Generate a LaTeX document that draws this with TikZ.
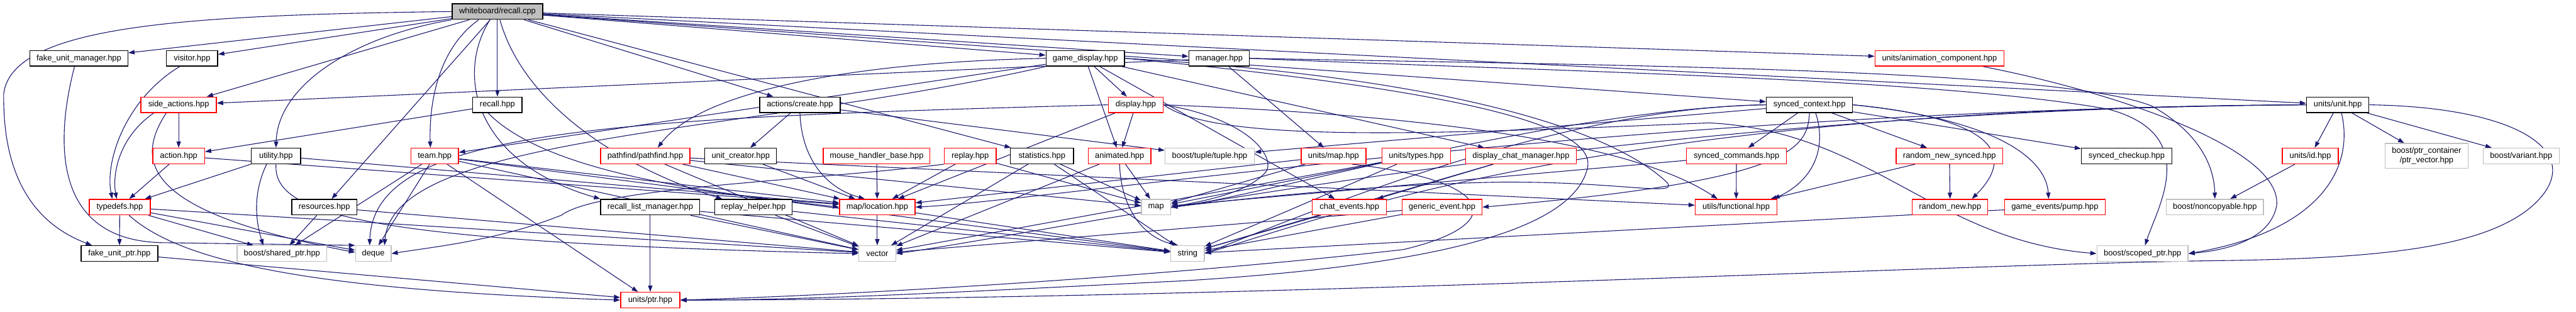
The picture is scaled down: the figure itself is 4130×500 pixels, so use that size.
\documentclass[tikz,border=0pt]{standalone}
\usepackage{fontspec}
\setmainfont{Liberation Sans}
\usetikzlibrary{arrows.meta}
\definecolor{edgeblue}{HTML}{191970}
\definecolor{nodered}{HTML}{FF0000}
\definecolor{nodegray}{HTML}{BFBFBF}
\pgfdeclarelayer{back}
\pgfdeclarelayer{edges}
\pgfsetlayers{back,edges,main}
\begin{document}
\begin{tikzpicture}[x=1pt,y=-1pt,
  base/.style={rectangle, minimum height=25pt, inner xsep=2pt, inner ysep=0pt, line width=1.4pt, fill=white, font=\fontsize{13}{15}\selectfont},
  bk/.style={base, draw=black},
  rd/.style={base, draw=nodered},
  gy/.style={base, draw=nodegray},
  e/.style={draw=edgeblue, line width=1.1pt, -{Triangle[length=10pt,width=7pt]}}]
\useasboundingbox (0,0) rectangle (4130,500);
\begin{pgfonlayer}{back}
\fill[white] (0,0) rectangle (4130,500);
\end{pgfonlayer}

% ---------- nodes ----------
\node[bk, fill=nodegray, minimum width=145] (cpp) at (797.5,18.5) {whiteboard/recall.cpp};
% row 2
\node[bk, minimum width=157] (fum) at (126.5,93.5) {fake\_unit\_manager.hpp};
\node[bk, minimum width=82] (vis) at (308,93.5) {visitor.hpp};
\node[bk, minimum width=126] (gd) at (1740,93.5) {game\_display.hpp};
\node[bk, minimum width=97] (mgr) at (1954.5,93.5) {manager.hpp};
\node[rd, minimum width=207] (uac) at (3109.5,93.5) {units/animation\_component.hpp};
% row 3
\node[rd, minimum width=121] (sa) at (286.5,168) {side\_actions.hpp};
\node[bk, minimum width=79] (rh) at (797.5,168) {recall.hpp};
\node[bk, minimum width=129] (ac) at (1282.5,168) {actions/create.hpp};
\node[rd, minimum width=88] (disp) at (1821,168) {display.hpp};
\node[bk, minimum width=138] (sc) at (2901,168) {synced\_context.hpp};
\node[bk, minimum width=100] (uu) at (3748,168) {units/unit.hpp};
% row 4
\node[rd, minimum width=83] (act) at (286.5,250) {action.hpp};
\node[bk, minimum width=79] (util) at (442.5,250) {utility.hpp};
\node[rd, minimum width=76] (team) at (697,250) {team.hpp};
\node[rd, minimum width=143] (pf) at (1034.5,250) {pathfind/pathfind.hpp};
\node[bk, minimum width=115] (uc) at (1187.5,250) {unit\_creator.hpp};
\node[rd, minimum width=171] (mhb) at (1405.5,250) {mouse\_handler\_base.hpp};
\node[rd, minimum width=83] (rep) at (1555.5,250) {replay.hpp};
\node[bk, minimum width=101] (stat) at (1670.5,250) {statistics.hpp};
\node[rd, minimum width=100] (anim) at (1795,250) {animated.hpp};
\node[gy, minimum width=143] (tuple) at (1939.5,250) {boost/tuple/tuple.hpp};
\node[rd, minimum width=104] (umap) at (2138,250) {units/map.hpp};
\node[rd, minimum width=110] (utypes) at (2270.5,250) {units/types.hpp};
\node[rd, minimum width=177] (dcm) at (2438.5,250) {display\_chat\_manager.hpp};
\node[rd, minimum width=160] (scmd) at (2784,250) {synced\_commands.hpp};
\node[rd, minimum width=171] (rns) at (3125.5,250) {random\_new\_synced.hpp};
\node[bk, minimum width=145] (sck) at (3409.5,250) {synced\_checkup.hpp};
\node[rd, minimum width=90] (uid) at (3704,250) {units/id.hpp};
\node[gy, minimum width=133, minimum height=40pt, align=center] (ptrv) at (3890.5,250) {boost/ptr\_container\\/ptr\_vector.hpp};
\node[gy, minimum width=122] (var) at (4042,250) {boost/variant.hpp};
% row 5
\node[rd, minimum width=98] (td) at (192,332) {typedefs.hpp};
\node[bk, minimum width=104] (res) at (520,332) {resources.hpp};
\node[bk, minimum width=159] (rlm) at (1042.5,332) {recall\_list\_manager.hpp};
\node[bk, minimum width=124] (rph) at (1208,332) {replay\_helper.hpp};
\node[rd, minimum width=121] (loc) at (1406.5,332) {map/location.hpp};
\node[gy, minimum width=47] (map) at (1853.5,332) {map};
\node[rd, minimum width=119] (chat) at (2163.5,332) {chat\_events.hpp};
\node[rd, minimum width=128] (gen) at (2312,332) {generic\_event.hpp};
\node[rd, minimum width=131] (fun) at (2783.5,332) {utils/functional.hpp};
\node[rd, minimum width=121] (rn) at (3126.5,332) {random\_new.hpp};
\node[rd, minimum width=161] (pump) at (3294.5,332) {game\_events/pump.hpp};
\node[gy, minimum width=156] (nc) at (3551,332) {boost/noncopyable.hpp};
% row 6
\node[bk, minimum width=123] (fup) at (191.5,406.5) {fake\_unit\_ptr.hpp};
\node[gy, minimum width=144] (sp) at (452,406.5) {boost/shared\_ptr.hpp};
\node[gy, minimum width=57] (deq) at (598.5,406.5) {deque};
\node[gy, minimum width=59] (vec) at (1406.5,406.5) {vector};
\node[gy, minimum width=54] (str) at (1904,406.5) {string};
\node[gy, minimum width=146] (scp) at (3435,406.5) {boost/scoped\_ptr.hpp};
% row 7
\node[rd, minimum width=95] (uptr) at (1042.5,481) {units/ptr.hpp};

% ---------- edges ----------
\begin{pgfonlayer}{edges}
% from root
\draw[e] (cpp.west) .. controls (300,24) and (20,40) .. (6,150) .. controls (4,290) and (60,360) .. ([xshift=-44pt]fup.north);
\draw[e] (cpp) -- (fum);
\draw[e] (cpp) -- (vis);
\draw[e] (cpp) -- (sa);
\draw[e] (cpp.south west) .. controls (560,60) and (445,140) .. (util.north);
\draw[e] (cpp) -- (res);
\draw[e] ([xshift=-30pt]cpp.south) .. controls (700,80) and (688,170) .. ([xshift=-7pt]team.north);
\draw[e] (cpp) -- (rh);
\draw[e] ([xshift=-12pt]cpp.south) .. controls (730,120) and (760,260) .. (rlm.north west);
\draw[e] ([xshift=4pt]cpp.south) .. controls (840,170) and (1000,270) .. ([xshift=-50pt]rph.north);
\draw[e] (cpp) -- (ac);
\draw[e] (cpp) -- (stat);
\draw[e] (cpp) -- (gd);
\draw[e] (cpp) -- (mgr);
\draw[e] (cpp) -- (uac);
\draw[e] (cpp) -- (sc);
\draw[e] (cpp) -- (uu);
% row 2 sources
\draw[e] ([xshift=-7pt]fum.south) .. controls (95,200) and (70,385) .. (260,389) -- (deq.north west);
\draw[e] ([xshift=-20pt]vis.south) .. controls (200,160) and (168,260) .. ([xshift=-12pt]td.north);
\draw[e] (gd.west) .. controls (1350,100) and (1120,150) .. ([xshift=20pt]pf.north);
\draw[e] (gd) -- (team);
\draw[e] (gd) -- (disp);
\draw[e] (gd) -- (anim);
\draw[e] (gd) -- (dcm);
\draw[e] (gd) -- (chat);
\draw[e] (gd.south west) .. controls (1200,215) and (630,215) .. ([xshift=18pt]deq.north);
\draw[e] (gd.east) .. controls (2400,150) and (2560,210) .. (2545,270) .. controls (2520,370) and (2300,425) .. (1900,450) .. controls (1500,470) and (1300,481) .. (uptr.east);
\draw[e] (gd.east) .. controls (2250,120) and (2560,190) .. (2670,290) .. controls (2700,318) and (2600,290) .. (2400,292) .. controls (2200,296) and (2000,318) .. (map.east);
\draw[e] (mgr) -- (sa);
\draw[e] (mgr) -- (umap);
\draw[e] (mgr.east) .. controls (2500,115) and (3100,125) .. (3380,175) .. controls (3530,215) and (3460,330) .. ([xshift=4pt]scp.north);
\draw[e] (mgr.east) .. controls (2600,105) and (3300,110) .. (3450,170) .. controls (3530,215) and (3550,270) .. (nc.north);
\draw[e] ([xshift=70pt]uac.south) .. controls (3400,150) and (3660,240) .. (3650,330) .. controls (3640,380) and (3580,400) .. (scp.east);
% row 3 sources
\draw[e] ([xshift=-40pt]sa.south) .. controls (190,220) and (180,280) .. ([xshift=-5pt]td.north);
\draw[e] (sa) -- (act);
\draw[e] ([xshift=-20pt]sa.south) .. controls (215,260) and (230,340) .. ([yshift=2pt]deq.west);
\draw[e] (rh) -- (act);
\draw[e] ([xshift=-15pt]rh.south) .. controls (880,280) and (1150,310) .. (loc.west);
\draw[e] (ac) -- (uc);
\draw[e] (ac.south) .. controls (1285,250) and (1320,300) .. ([xshift=-20pt]loc.north);
\draw[e] (ac) -- (tuple);
\draw[e] (disp) -- (anim);
\draw[e] (disp.east) .. controls (2000,190) and (2045,250) .. (2030,275) .. controls (2000,310) and (1930,322) .. (map.east);
\draw[e] (disp.west) .. controls (950,190) and (600,210) .. ([xshift=-6pt]deq.north);
\draw[e] (disp) -- (loc);
\draw[e] (disp.east) .. controls (1950,230) and (2300,215) .. (2740,197) .. controls (3000,210) and (3100,385) .. (scp.west);
\draw[e] (disp.east) .. controls (2300,185) and (2620,230) .. ([xshift=-30pt]fun.north);
\draw[e] (sc) -- (scmd);
\draw[e] (sc) -- (rns);
\draw[e] (sc) -- (sck);
\draw[e] (sc) -- (tuple);
\draw[e] ([xshift=10pt]sc.south) .. controls (2930,240) and (2905,290) .. ([xshift=60pt]fun.north);
\draw[e] (sc.south) .. controls (2898,240) and (2870,290) .. (gen.east);
\draw[e] (sc.east) .. controls (3150,185) and (3250,230) .. ([xshift=35pt]rn.north);
\draw[e] (sc.east) .. controls (3190,190) and (3280,250) .. ([xshift=-10pt]pump.north);
\draw[e] (sc.west) .. controls (2500,172) and (2100,340) .. (str.east);
\draw[e] (sc.west) .. controls (2500,174) and (2000,320) .. (map.east);
\draw[e] (uu) -- (uid);
\draw[e] (uu) -- (ptrv);
\draw[e] (uu) -- (var);
\draw[e] ([xshift=6pt]uu.south) .. controls (3775,270) and (3720,370) .. (scp.east);
\draw[e] (uu.east) .. controls (4050,172) and (4150,250) .. (4060,330) .. controls (3980,400) and (3800,415) .. (3540,418) .. controls (3100,425) and (2000,480) .. (uptr.east);
\draw[e] (uu.west) .. controls (2600,172) and (2150,340) .. (str.east);
\draw[e] (uu.west) .. controls (2600,174) and (1700,370) .. (vec.east);
\draw[e] (uu.west) .. controls (2600,176) and (1700,320) .. (loc.east);
% row 4 sources
\draw[e] (act) -- (td);
\draw[e] (act) -- (loc);
\draw[e] (util) -- (td);
\draw[e] ([xshift=-15pt]util.south) .. controls (400,320) and (415,370) .. ([xshift=-30pt]sp.north);
\draw[e] (util.south) .. controls (438,340) and (560,388) .. (vec.west);
\draw[e] (util) -- (loc);
\draw[e] (team) -- (sp);
\draw[e] (team) -- (deq);
\draw[e] (team) -- (uptr);
\draw[e] (team) -- (loc);
\draw[e] (team) -- (vec);
\draw[e] (team) -- (str);
\draw[e] (pf) -- (loc);
\draw[e] (pf) -- (map);
\draw[e] (pf) -- (vec);
\draw[e] (pf) -- (fun);
\draw[e] (uc) -- (loc);
\draw[e] (mhb) -- (loc);
\draw[e] (rep) -- (loc);
\draw[e] (rep) -- (map);
\draw[e] (rep.south west) .. controls (1300,290) and (960,300) .. (900,345) .. controls (800,385) and (700,395) .. (deq.east);
\draw[e] (stat) -- (vec);
\draw[e] (stat) -- (map);
\draw[e] (stat) -- (str);
\draw[e] (anim) -- (vec);
\draw[e] (anim) -- (map);
\draw[e] (anim.south) .. controls (1797,330) and (1830,380) .. ([xshift=-15pt]str.north);
\draw[e] ([xshift=30pt]umap.south) .. controls (2400,290) and (2420,360) .. (2250,400) .. controls (1900,440) and (1400,472) .. (uptr.east);
\draw[e] (umap) -- (map);
\draw[e] (umap) -- (loc);
\draw[e] (utypes) -- (vec);
\draw[e] (utypes) -- (str);
\draw[e] (utypes) -- (map);
\draw[e] (dcm) -- (chat);
\draw[e] (dcm) -- (str);
\draw[e] (scmd) -- (fun);
\draw[e] (scmd) -- (map);
\draw[e] (rns) -- (fun);
\draw[e] (rns) -- (rn);
\draw[e] (uid) -- (nc);
% row 5 sources
\draw[e] (td) -- (fup);
\draw[e] (td) -- (sp);
\draw[e] (td) -- (deq);
\draw[e] ([xshift=15pt]td.south) .. controls (290,420) and (500,465) .. (uptr.west);
\draw[e] (td) -- (vec);
\draw[e] (res) -- (sp);
\draw[e] (res) -- (vec);
\draw[e] (rlm) -- (uptr);
\draw[e] (rlm) -- (vec);
\draw[e] (rlm) -- (str);
\draw[e] (rph) -- (vec);
\draw[e] (rph) -- (str);
\draw[e] (loc) -- (vec);
\draw[e] (loc) -- (str);
\draw[e] (chat) -- (str);
\draw[e] (gen) -- (str);
\draw[e] (gen) -- (vec);
\draw[e] (pump) -- (str);
% row 6 sources
\draw[e] (fup) -- (uptr);
\end{pgfonlayer}
\end{tikzpicture}
\end{document}
